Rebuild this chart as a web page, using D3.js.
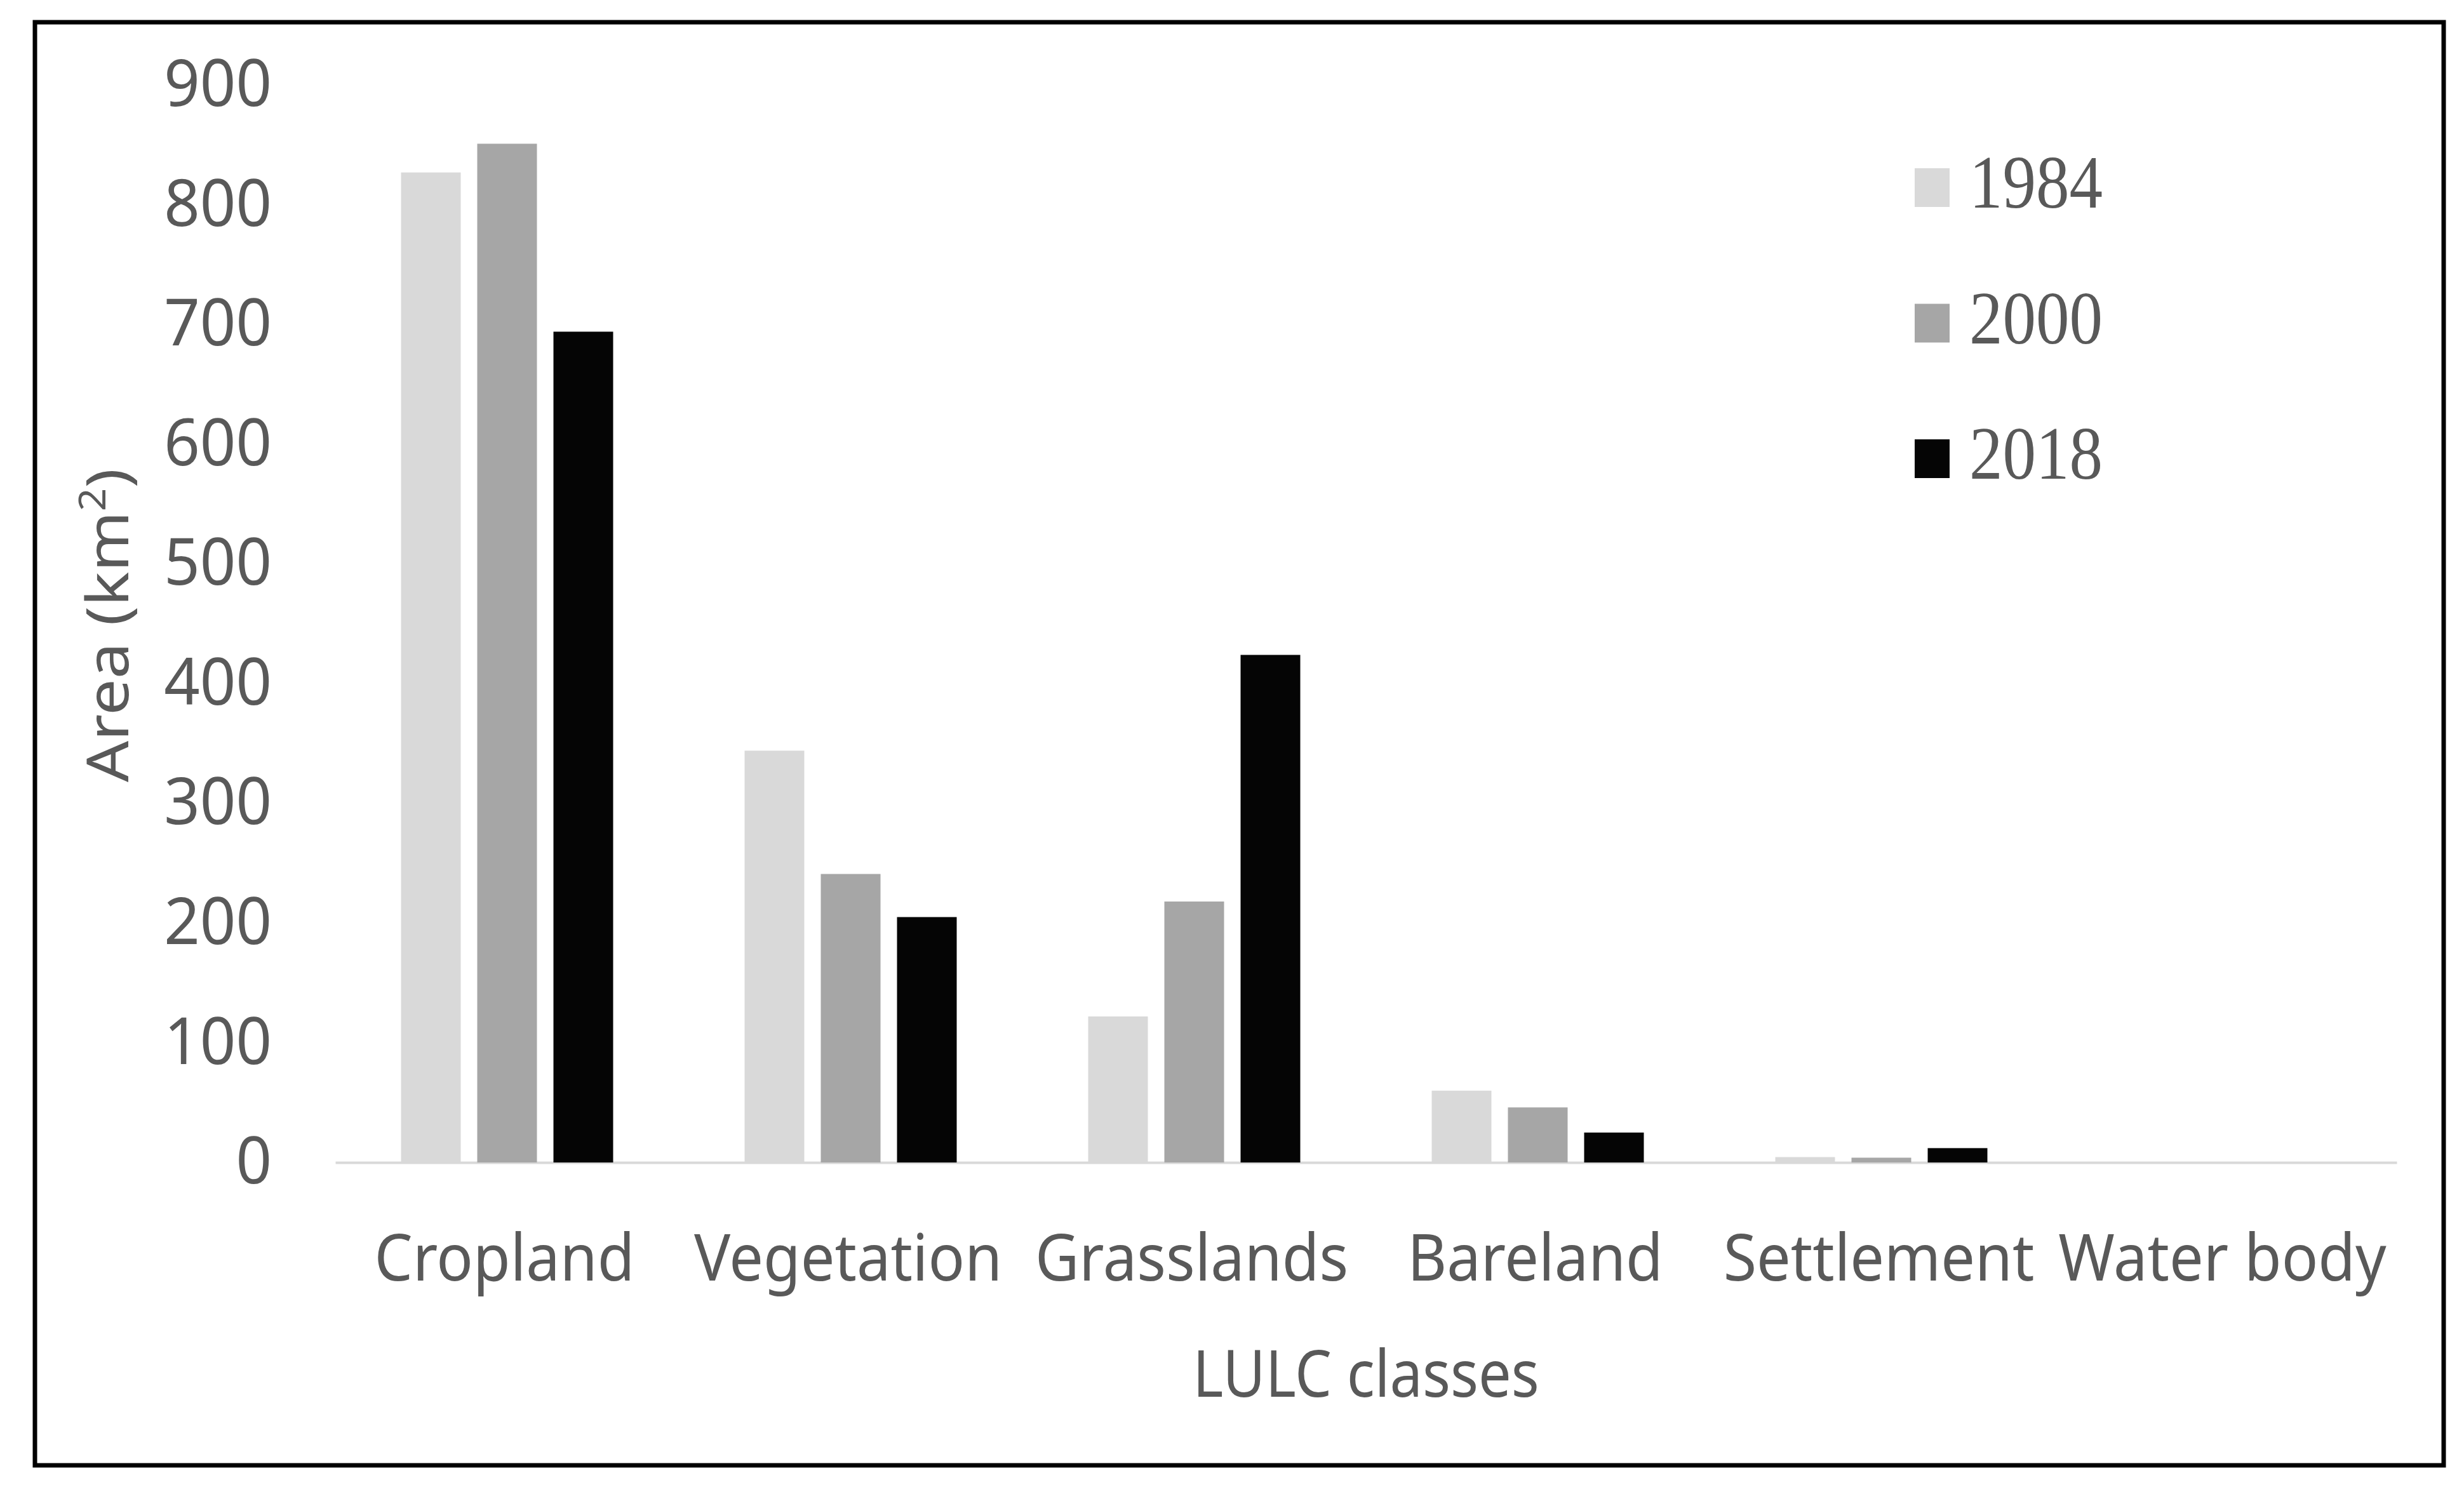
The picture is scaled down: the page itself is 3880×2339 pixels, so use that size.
<!DOCTYPE html>
<html><head><meta charset="utf-8">
<script src="https://cdn.jsdelivr.net/npm/d3@7"></script>
<style>html,body{margin:0;padding:0;background:#fff;overflow:hidden;}</style>
</head><body><svg id="chart" width="3880" height="2339"></svg>
<script>
// ---- data ----
const categories = ["Cropland", "Vegetation", "Grasslands", "Bareland", "Settlement", "Water body"];
const seriesNames = ["1984", "2000", "2018"];
const values1984 = [827, 344, 122, 60, 4.5, 0];
const values2000 = [851, 241, 218, 46, 4, 0];
const values2018 = [694, 205, 424, 25, 12, 0];
const seriesColors = ["#d9d9d9", "#a6a6a6", "#050505"];
const yTicks = [0, 100, 200, 300, 400, 500, 600, 700, 800, 900];
const xTitle = "LULC classes";
const yTitle = "Area (km";

const seriesValues = [values1984, values2000, values2018];
const rows = categories.map((c, i) => ({ cat: c, vals: seriesNames.map((s, j) => ({ s, v: seriesValues[j][i] })) }));

// ---- layout ----
const W = 3880, H = 2339;
const plot = { left: 528, right: 3774, top: 134, bottom: 1831 };
const SX = 0.9; // horizontal text compression as in reference
const textColor = "#595959";
const sans = "'Noto Sans', 'Open Sans', sans-serif";

const svg = d3.select("#chart");
svg.append("rect").attr("width", W).attr("height", H).attr("fill", "#fff");

// frame
svg.append("rect").attr("x", 55).attr("y", 35).attr("width", 3848 - 55).attr("height", 2308 - 35)
  .attr("fill", "none").attr("stroke", "#000").attr("stroke-width", 7);

const x0 = d3.scaleBand().domain(categories).range([plot.left, plot.right]).paddingInner(0).paddingOuter(0);
const groupW = 334;
const x1 = d3.scaleBand().domain(seriesNames).range([0, groupW]).paddingInner(0.2167).paddingOuter(0);
const y = d3.scaleLinear().domain([0, 900]).range([plot.bottom, plot.top]);
const color = d3.scaleOrdinal().domain(seriesNames).range(seriesColors);

// x axis (baseline)
const xAxisG = svg.append("g").attr("transform", `translate(0,${plot.bottom})`)
  .call(d3.axisBottom(x0).tickSize(0).tickSizeOuter(0).tickPadding(0));
xAxisG.select(".domain").attr("stroke", "#d9d9d9").attr("stroke-width", 4);
xAxisG.selectAll(".tick text")
  .attr("y", 0).attr("dy", 0)
  .attr("transform", `translate(-4,186) scale(0.935,1)`)
  .attr("font-family", sans).attr("font-size", 102).attr("fill", textColor)
  .attr("text-anchor", "middle");

// y axis labels
const yAxisG = svg.append("g").attr("transform", `translate(428,0)`)
  .call(d3.axisLeft(y).tickValues(yTicks).tickSize(0).tickPadding(0).tickFormat(d3.format("d")));
yAxisG.select(".domain").remove();
yAxisG.selectAll(".tick text")
  .attr("x", 0).attr("dy", "0.32em")
  .attr("transform", `scale(0.97,1)`)
  .attr("font-family", sans).attr("font-size", 102).attr("fill", textColor)
  .attr("text-anchor", "end");

// bars
const groups = svg.append("g").selectAll("g").data(rows).join("g")
  .attr("transform", d => `translate(${x0(d.cat) + (x0.bandwidth() - groupW) / 2},0)`);
groups.selectAll("rect").data(d => d.vals).join("rect")
  .attr("x", d => x1(d.s))
  .attr("width", x1.bandwidth())
  .attr("y", d => y(d.v))
  .attr("height", d => y(0) - y(d.v))
  .attr("fill", d => color(d.s));

// axis titles
svg.append("text")
  .attr("transform", `translate(${(plot.left + plot.right) / 2},2200) scale(${SX},1)`)
  .attr("text-anchor", "middle").attr("font-family", sans).attr("font-size", 102)
  .attr("fill", textColor).text(xTitle);

const yt = svg.append("text")
  .attr("transform", `translate(202,985) scale(${SX},1) rotate(-90)`)
  .attr("text-anchor", "middle").attr("font-family", sans).attr("font-size", 102)
  .attr("fill", textColor);
yt.append("tspan").text(yTitle);
yt.append("tspan").attr("font-size", 64).attr("dy", -40).text("2");
yt.append("tspan").attr("dy", 40).text(")");

// legend
const legend = svg.append("g").selectAll("g").data(seriesNames).join("g")
  .attr("transform", (d, i) => `translate(3015,${265 + i * 213.5})`);
legend.append("rect").attr("x", 0).attr("y", 0).attr("width", 55).attr("height", 61)
  .attr("fill", d => color(d));
legend.append("text")
  .attr("transform", `translate(86,62) scale(0.89,1)`)
  .attr("font-family", "'Liberation Serif', 'Times New Roman', serif").attr("font-size", 118)
  .attr("fill", textColor).text(d => d);
</script>
</body></html>
